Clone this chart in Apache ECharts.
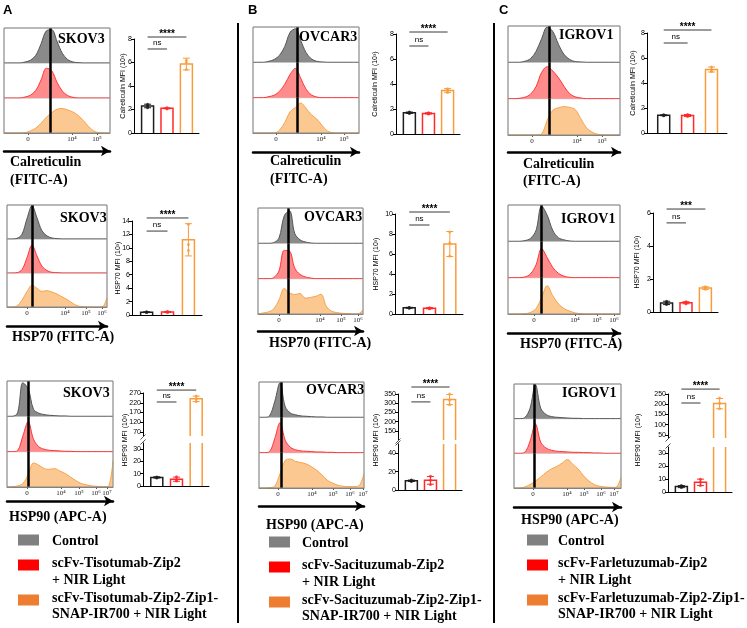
<!DOCTYPE html>
<html>
<head>
<meta charset="utf-8">
<script src="https://cdn.jsdelivr.net/npm/echarts@6/dist/echarts.min.js"></script>
<style>
  html, body { margin: 0; padding: 0; background: #fff; }
  #chart { width: 747px; height: 628px; }
</style>
</head>
<body>
<div id="chart"></div>
<script>
// ---------- data ----------
// flow histograms: % of mode, read every 5% across the plot width
const histX = [0,5,10,15,20,25,30,35,40,45,50,55,60,65,70,75,80,85,90,95,100];
const tickText = ['0', '10⁴', '10⁵', '10⁶', '10⁷'];

const skovCalCtrl  = [0,0,0,0,3,8,22,55,92,95,62,28,10,3,1,0,0,0,0,0,0];
const skovCalZip2  = [0,0,0,0,3,8,22,52,85,78,45,20,7,2,0,0,0,0,0,0,0];
const skovCalIr700 = [0,0,0,0,1,6,14,28,45,58,68,70,66,60,50,35,18,5,1,0,0];
const skovH70Ctrl  = [0,0,2,14,60,98,62,24,9,3,1,0,0,0,0,0,0,0,0,0,0];
const skovH70Zip2  = [0,0,1,10,45,82,50,20,7,2,1,0,0,0,0,0,0,0,0,0,0];
const skovH70Ir700 = [0,0,3,20,45,64,55,46,48,44,38,30,22,12,4,1,0,0,0,0,27];
const skovH90Ctrl  = [0,0,10,95,78,20,9,5,3,2,1,1,0,0,0,0,0,0,0,0,0];
const skovH90Zip2  = [0,0,3,45,85,35,14,7,4,3,2,1,1,0,0,0,0,0,0,0,0];
const skovH90Ir700 = [0,1,3,10,35,68,62,52,50,52,45,38,28,18,10,6,3,2,1,1,75];

const ovcarCalCtrl  = [0,0,0,3,8,20,45,85,95,62,28,10,3,1,0,0,0,0,0,0,0];
const ovcarCalZip2  = [0,0,0,3,7,18,38,66,83,55,24,8,2,0,0,0,0,0,0,0,0];
const ovcarCalIr700 = [0,0,0,0,0,8,30,60,72,85,70,52,40,22,6,1,0,0,0,0,0];
const ovcarH70Ctrl  = [0,0,0,2,15,78,92,28,10,4,1,0,0,0,0,0,0,0,0,0,0];
const ovcarH70Zip2  = [0,0,0,3,22,80,78,30,12,5,2,0,0,0,0,0,0,0,0,0,0];
const ovcarH70Ir700 = [0,3,6,15,40,72,60,55,58,45,47,50,56,22,8,4,2,1,0,0,12];
const ovcarH90Ctrl  = [0,0,4,45,98,30,12,7,4,3,2,1,1,0,0,0,0,0,0,0,0];
const ovcarH90Zip2  = [0,0,3,40,85,35,15,8,5,4,3,2,2,1,1,0,0,0,0,0,0];
const ovcarH90Ir700 = [0,0,1,5,40,78,82,75,72,68,60,50,37,22,14,8,5,4,4,6,40];

const igrovCalCtrl  = [0,0,0,3,10,30,65,97,85,50,22,8,2,1,0,0,0,0,0,0,0];
const igrovCalZip2  = [0,0,1,4,12,33,72,88,76,58,34,14,5,2,0,0,0,0,0,0,0];
const igrovCalIr700 = [0,0,0,0,0,0,3,40,68,75,78,76,70,45,20,8,2,0,0,0,0];
const igrovH70Ctrl  = [0,0,0,2,8,30,97,72,30,10,4,1,0,0,0,0,0,0,0,0,0];
const igrovH70Zip2  = [0,0,0,2,10,35,80,55,28,12,4,1,0,0,0,0,0,0,0,0,0];
const igrovH70Ir700 = [0,0,0,1,4,15,45,78,50,28,15,8,3,1,0,0,0,0,0,0,0];
const igrovH90Ctrl  = [0,0,3,30,98,30,12,6,4,3,2,1,1,0,0,0,0,0,0,0,0];
const igrovH90Zip2  = [0,0,3,35,85,32,15,9,6,5,4,3,3,2,2,1,1,0,0,0,0];
const igrovH90Ir700 = [0,0,3,10,20,32,45,55,62,72,82,68,55,35,20,10,5,3,2,2,30];

// gate line and decade tick positions (same % scale), order: Cal, HSP70, HSP90
const skovGates  = [44, 25, 20];
const ovcarGates = [41.5, 28.5, 21];
const igrovGates = [36.6, 29.5, 18.7];
const skovCalTicks  = [22.6, 64.2, 87.7];
const skovH70Ticks  = [20, 58, 79, 95];
const skovH90Ticks  = [18.9, 50.9, 67.9, 84, 94.3];
const ovcarCalTicks = [21.7, 64.2, 85.8];
const ovcarH70Ticks = [20, 59, 79, 95.2];
const ovcarH90Ticks = [18, 50.5, 70.5, 86.7, 99];
const igrovCalTicks = [21.4, 61.6, 84];
const igrovH70Ticks = [23.2, 59.8, 79.5, 94.6];
const igrovH90Ticks = [17.8, 49.5, 65.4, 81.3, 93.5];

// MFI bars (10^3): Control, Zip2 + NIR, Zip2-Zip1-SNAP-IR700 + NIR
const skovCalMean = [2.3, 2.1, 5.87];
const skovCalSd   = [0.15, 0.04, 0.5];
const skovCalPts  = [[2.15, 2.3, 2.45], [2.06, 2.1, 2.14], [6.2, 6.0, 5.4]];
const skovH70Mean = [0.42, 0.45, 11.2];
const skovH70Sd   = [0.06, 0.08, 2.4];
const skovH70Pts  = [[0.37, 0.42, 0.47], [0.38, 0.45, 0.52], [13.5, 10.5, 9.6]];
const skovH90Mean = [7.0, 5.5, 240];
const skovH90Sd   = [0.5, 1.7, 14];
const skovH90Pts  = [[6.6, 7.0, 7.4], [4.0, 5.0, 7.5], [255, 240, 226]];

const ovcarCalMean = [1.7, 1.65, 3.48];
const ovcarCalSd   = [0.06, 0.05, 0.15];
const ovcarCalPts  = [[1.65, 1.7, 1.76], [1.6, 1.65, 1.7], [3.62, 3.5, 3.33]];
const ovcarH70Mean = [0.62, 0.58, 7.0];
const ovcarH70Sd   = [0.05, 0.06, 1.25];
const ovcarH70Pts  = [[0.58, 0.62, 0.66], [0.53, 0.58, 0.63], [8.2, 7.1, 5.8]];
const ovcarH90Mean = [10, 10.5, 320];
const ovcarH90Sd   = [0.8, 4.2, 28];
const ovcarH90Pts  = [[9.2, 10, 10.8], [6, 10.5, 15], [350, 318, 292]];

const igrovCalMean = [1.42, 1.4, 5.08];
const igrovCalSd   = [0.04, 0.08, 0.2];
const igrovCalPts  = [[1.38, 1.42, 1.46], [1.32, 1.4, 1.48], [5.28, 5.05, 4.92]];
const igrovH70Mean = [0.55, 0.56, 1.45];
const igrovH70Sd   = [0.1, 0.06, 0.08];
const igrovH70Pts  = [[0.45, 0.55, 0.65], [0.5, 0.56, 0.62], [1.53, 1.45, 1.38]];
const igrovH90Mean = [4.2, 7.5, 203];
const igrovH90Sd   = [0.8, 2.5, 25];
const igrovH90Pts  = [[3.5, 4.2, 5], [5, 7.5, 10], [230, 205, 178]];

// y ticks
const calTicks8   = [0, 2, 4, 6, 8];
const h70Ticks14  = [0, 2, 4, 6, 8, 10, 12, 14];
const h70Ticks10  = [0, 2, 4, 6, 8, 10];
const h70Ticks6   = [0, 2, 4, 6];
const skovH90Up   = [70, 120, 170, 220, 270];
const skovH90Low  = [0, 10, 20, 30];
const ovcarH90Up  = [150, 200, 250, 300, 350];
const ovcarH90Low = [0, 20, 40];
const igrovH90Up  = [50, 100, 150, 200, 250];
const igrovH90Low = [0, 10, 20, 30];

// significance bracket heights: [Control vs IR700, Control vs Zip2]
const skovCalSig  = [8.17, 7.15];
const skovH70Sig  = [14.45, 12.5];
const skovH90Sig  = [285, 224];
const ovcarCalSig = [8.16, 7.04];
const ovcarH70Sig = [10.2, 8.9];
const ovcarH90Sig = [388, 307];
const igrovCalSig = [8.24, 7.2];
const igrovH70Sig = [6.24, 5.4];
const igrovH90Sig = [274, 206];

const legendNames = [
  ['Control', 'scFv-Tisotumab-Zip2', '+ NIR Light', 'scFv-Tisotumab-Zip2-Zip1-', 'SNAP-IR700 + NIR Light'],
  ['Control', 'scFv-Sacituzumab-Zip2', '+ NIR Light', 'scFv-Sacituzumab-Zip2-Zip1-', 'SNAP-IR700 + NIR Light'],
  ['Control', 'scFv-Farletuzumab-Zip2', '+ NIR Light', 'scFv-Farletuzumab-Zip2-Zip1-', 'SNAP-IR700 + NIR Light'],
];

// ---------- style ----------
const SERIF = '"Liberation Serif", "DejaVu Serif", serif';
const SANS = '"Liberation Sans", Arial, sans-serif';
const HIST_COLORS = [
  { line: '#555555', fill: '#8a8a8a' },
  { line: '#ff3535', fill: '#ff8c8c' },
  { line: '#f6a24a', fill: '#fcc892' },
];
const BAR_COLORS = ['#1e1e1e', '#ff2a2a', '#f99c3c'];
const LEGEND_COLORS = ['#808080', '#ff0000', '#ed7d31'];
const BAR_W = 12;

// ---------- layout ----------
const histPanels = [
  { box: [4, 28, 106, 105],   arrow: 151, cell: 'SKOV3',  cellAt: [58, 39],   curves: [skovCalCtrl, skovCalZip2, skovCalIr700],    gate: skovGates[0],  ticks: skovCalTicks },
  { box: [7, 205, 100, 102],  arrow: 326, cell: 'SKOV3',  cellAt: [60, 218],  curves: [skovH70Ctrl, skovH70Zip2, skovH70Ir700],    gate: skovGates[1],  ticks: skovH70Ticks },
  { box: [7, 381, 106, 106],  arrow: 501, cell: 'SKOV3',  cellAt: [63, 393],  curves: [skovH90Ctrl, skovH90Zip2, skovH90Ir700],    gate: skovGates[2],  ticks: skovH90Ticks },
  { box: [253, 27, 106, 106], arrow: 152, cell: 'OVCAR3', cellAt: [299, 37],  curves: [ovcarCalCtrl, ovcarCalZip2, ovcarCalIr700], gate: ovcarGates[0], ticks: ovcarCalTicks },
  { box: [258, 208, 105, 106],arrow: 331, cell: 'OVCAR3', cellAt: [304, 217], curves: [ovcarH70Ctrl, ovcarH70Zip2, ovcarH70Ir700], gate: ovcarGates[1], ticks: ovcarH70Ticks },
  { box: [259, 382, 105, 106],arrow: 506, cell: 'OVCAR3', cellAt: [306, 390], curves: [ovcarH90Ctrl, ovcarH90Zip2, ovcarH90Ir700], gate: ovcarGates[2], ticks: ovcarH90Ticks },
  { box: [508, 26, 112, 109], arrow: 152, cell: 'IGROV1', cellAt: [559, 35],  curves: [igrovCalCtrl, igrovCalZip2, igrovCalIr700], gate: igrovGates[0], ticks: igrovCalTicks },
  { box: [508, 205, 112, 109],arrow: 333, cell: 'IGROV1', cellAt: [561, 219], curves: [igrovH70Ctrl, igrovH70Zip2, igrovH70Ir700], gate: igrovGates[1], ticks: igrovH70Ticks },
  { box: [514, 384, 107, 104],arrow: 507, cell: 'IGROV1', cellAt: [562, 393], curves: [igrovH90Ctrl, igrovH90Zip2, igrovH90Ir700], gate: igrovGates[2], ticks: igrovH90Ticks },
];

const barPanels = [
  { left: 134, width: 65, segs: [{ top: 39, height: 94, min: 0, max: 8, ticks: calTicks8 }],
    mean: skovCalMean, sd: skovCalSd, pts: skovCalPts, sig: skovCalSig, stars: '****', name: 'Calreticulin MFI (10³)', nameAt: [123, 86] },
  { left: 132, width: 70, segs: [{ top: 221, height: 94, min: 0, max: 14, ticks: h70Ticks14 }],
    mean: skovH70Mean, sd: skovH70Sd, pts: skovH70Pts, sig: skovH70Sig, stars: '****', name: 'HSP70 MFI (10³)', nameAt: [118, 268] },
  { left: 143, width: 66, segs: [{ top: 393, height: 43, min: 50, max: 270, ticks: skovH90Up }, { top: 443, height: 43, min: 0, max: 35, ticks: skovH90Low }],
    mean: skovH90Mean, sd: skovH90Sd, pts: skovH90Pts, sig: skovH90Sig, stars: '****', name: 'HSP90 MFI (10³)', nameAt: [125, 440] },
  { left: 396, width: 64, segs: [{ top: 34, height: 100, min: 0, max: 8, ticks: calTicks8 }],
    mean: ovcarCalMean, sd: ovcarCalSd, pts: ovcarCalPts, sig: ovcarCalSig, stars: '****', name: 'Calreticulin MFI (10³)', nameAt: [375, 84] },
  { left: 395, width: 68, segs: [{ top: 214, height: 100, min: 0, max: 10, ticks: h70Ticks10 }],
    mean: ovcarH70Mean, sd: ovcarH70Sd, pts: ovcarH70Pts, sig: ovcarH70Sig, stars: '****', name: 'HSP70 MFI (10³)', nameAt: [376, 264] },
  { left: 398, width: 64, segs: [{ top: 394, height: 46, min: 100, max: 350, ticks: ovcarH90Up }, { top: 444, height: 46, min: 0, max: 50, ticks: ovcarH90Low }],
    mean: ovcarH90Mean, sd: ovcarH90Sd, pts: ovcarH90Pts, sig: ovcarH90Sig, stars: '****', name: 'HSP90 MFI (10³)', nameAt: [376, 440] },
  { left: 647, width: 80, segs: [{ top: 33, height: 100, min: 0, max: 8, ticks: calTicks8 }],
    mean: igrovCalMean, sd: igrovCalSd, pts: igrovCalPts, sig: igrovCalSig, stars: '****', name: 'Calreticulin MFI (10³)', nameAt: [633, 83] },
  { left: 653, width: 65, segs: [{ top: 213, height: 99, min: 0, max: 6, ticks: h70Ticks6 }],
    mean: igrovH70Mean, sd: igrovH70Sd, pts: igrovH70Pts, sig: igrovH70Sig, stars: '***', name: 'HSP70 MFI (10³)', nameAt: [637, 262] },
  { left: 668, width: 64, segs: [{ top: 394, height: 44, min: 35, max: 250, ticks: igrovH90Up }, { top: 447, height: 45, min: 0, max: 35, ticks: igrovH90Low }],
    mean: igrovH90Mean, sd: igrovH90Sd, pts: igrovH90Pts, sig: igrovH90Sig, stars: '****', name: 'HSP90 MFI (10³)', nameAt: [638, 440] },
];

const markerTitles = [
  ['Calreticulin', 10, 162], ['(FITC-A)', 10, 180], ['HSP70 (FITC-A)', 12, 337], ['HSP90 (APC-A)', 9, 517],
  ['Calreticulin', 270, 161], ['(FITC-A)', 270, 179], ['HSP70 (FITC-A)', 269, 343], ['HSP90 (APC-A)', 266, 525],
  ['Calreticulin', 523, 164], ['(FITC-A)', 523, 181], ['HSP70 (FITC-A)', 520, 344], ['HSP90 (APC-A)', 521, 520],
];
const legendCols = [{ sq: 18, tx: 52, dy: 0 }, { sq: 269, tx: 302, dy: 2 }, { sq: 527, tx: 558, dy: 0 }];

// ---------- build ----------
const grid = [], xAxis = [], yAxis = [], series = [], graphic = [];

function histPanel(p) {
  const [l, t, w, h] = p.box;
  const sub = h / 3;
  let bottomGrid = 0;
  p.curves.forEach((curve, k) => {
    const gi = grid.length;
    grid.push({ left: l, top: t + sub * k, width: w, height: sub, show: true, borderColor: '#cfcfcf', borderWidth: 1 });
    const xi = xAxis.length;
    xAxis.push({
      gridIndex: gi, type: 'value', min: 0, max: 100, show: k === 2,
      axisLine: { onZero: false, lineStyle: { color: '#7a7a7a', width: 1 } },
      axisTick: { customValues: p.ticks, length: 2, lineStyle: { color: '#555' } },
      axisLabel: { customValues: p.ticks, formatter: v => tickText[p.ticks.indexOf(v)], fontFamily: SERIF, fontSize: 7, color: '#222', margin: 3 },
      splitLine: { show: false },
    });
    const yi = yAxis.length;
    yAxis.push({ gridIndex: gi, type: 'value', min: 0, max: 100, show: false, splitLine: { show: false } });
    series.push({
      type: 'line', xAxisIndex: xi, yAxisIndex: yi, silent: true,
      data: histX.map((x, j) => [x, curve[j]]),
      smooth: 0.35, symbol: 'none',
      lineStyle: { color: HIST_COLORS[k].line, width: 1 },
      areaStyle: { color: HIST_COLORS[k].fill, opacity: 1 },
      markLine: {
        silent: true, symbol: ['none', 'none'], label: { show: false },
        lineStyle: { color: '#000', width: 2.5, type: 'solid' },
        data: [{ xAxis: p.gate }],
      },
    });
    if (k === 2) bottomGrid = gi;
  });
  // the arrow under each histogram
  xAxis.push({
    gridIndex: bottomGrid, type: 'value', min: 0, max: 100, position: 'bottom', offset: p.arrow - (t + h),
    axisLine: { show: true, onZero: false, symbol: ['none', 'arrow'], symbolSize: [8, 9], lineStyle: { color: '#000', width: 2.5 } },
    axisTick: { show: false }, axisLabel: { show: false }, splitLine: { show: false },
  });
  graphic.push({ type: 'rect', shape: { x: l, y: t, width: w, height: h }, style: { fill: 'none', stroke: '#8a8a8a', lineWidth: 1 }, z: 100 });
  graphic.push({ type: 'text', x: p.cellAt[0], y: p.cellAt[1], z: 101, style: { text: p.cell, font: 'bold 14px ' + SERIF, fill: '#000', verticalAlign: 'middle' } });
}

function renderBar(params, api) {
  const x = api.value(0), v = api.value(1);
  const top = api.coord([x, v]);
  const base = api.coord([x, 0]);
  const hw = BAR_W / 2;
  return {
    type: 'polyline',
    shape: { points: [[top[0] - hw, base[1]], [top[0] - hw, top[1]], [top[0] + hw, top[1]], [top[0] + hw, base[1]]] },
    style: { fill: 'none', stroke: BAR_COLORS[params.dataIndex], lineWidth: 1.5 },
  };
}

function renderErr(params, api) {
  const x = api.value(0), m = api.value(1), e = api.value(2);
  const hi = api.coord([x, m + e]), lo = api.coord([x, m - e]);
  const style = { stroke: BAR_COLORS[params.dataIndex], lineWidth: 1 };
  return {
    type: 'group', children: [
      { type: 'line', shape: { x1: hi[0], y1: hi[1], x2: lo[0], y2: lo[1] }, style },
      { type: 'line', shape: { x1: hi[0] - 3.5, y1: hi[1], x2: hi[0] + 3.5, y2: hi[1] }, style },
      { type: 'line', shape: { x1: lo[0] - 3.5, y1: lo[1], x2: lo[0] + 3.5, y2: lo[1] }, style },
    ],
  };
}

function barPanel(p) {
  const labels = [p.stars, 'ns'];
  p.segs.forEach((s, si) => {
    const gi = grid.length;
    grid.push({ left: p.left, top: s.top, width: p.width, height: s.height });
    const xi = xAxis.length;
    xAxis.push({
      gridIndex: gi, type: 'value', min: 0.3, max: 3.65, show: si === p.segs.length - 1,
      axisLine: { onZero: false, lineStyle: { color: '#000', width: 1 } },
      axisTick: { show: false }, axisLabel: { show: false }, splitLine: { show: false },
    });
    const yi = yAxis.length;
    yAxis.push({
      gridIndex: gi, type: 'value', min: s.min, max: s.max,
      axisLine: { show: true, onZero: false, lineStyle: { color: '#000', width: 1 } },
      axisTick: { show: true, customValues: s.ticks, length: 3, lineStyle: { color: '#000' } },
      axisLabel: { customValues: s.ticks, fontFamily: SANS, fontSize: 7, color: '#000', margin: 2 },
      splitLine: { show: false },
    });
    const common = { xAxisIndex: xi, yAxisIndex: yi, silent: true };
    series.push({ ...common, type: 'custom', clip: true, renderItem: renderBar, data: p.mean.map((m, i) => [i + 1, m]) });
    series.push({ ...common, type: 'custom', clip: true, renderItem: renderErr, z: 3, data: p.mean.map((m, i) => [i + 1, m, p.sd[i]]) });
    series.push({
      ...common, type: 'scatter', symbolSize: 3, z: 4,
      data: p.pts.flatMap((arr, i) => arr.map(v => ({ value: [i + 1, v], itemStyle: { color: BAR_COLORS[i] } }))),
    });
    if (si === 0) {
      series.push({
        ...common, type: 'custom', clip: false, z: 5,
        data: [[1, 3, p.sig[0]], [1, 2, p.sig[1]]],
        renderItem(params, api) {
          const a = api.coord([api.value(0), api.value(2)]);
          const b = api.coord([api.value(1), api.value(2)]);
          const isNs = params.dataIndex === 1;
          return {
            type: 'group', children: [
              { type: 'line', shape: { x1: a[0], y1: a[1], x2: b[0], y2: b[1] }, style: { stroke: '#3a3a3a', lineWidth: 1 } },
              { type: 'text', x: (a[0] + b[0]) / 2, y: a[1] + (isNs ? -2 : 2),
                style: { text: labels[params.dataIndex], align: 'center', verticalAlign: 'bottom',
                  font: isNs ? '8px ' + SANS : 'bold 10px ' + SANS, fill: '#000' } },
            ],
          };
        },
      });
    }
  });
  // axis break marks
  if (p.segs.length === 2) {
    const yTop = p.segs[0].top + p.segs[0].height, yBot = p.segs[1].top;
    [yTop + 1, yBot - 1].forEach(y => graphic.push({
      type: 'line', shape: { x1: p.left - 2.5, y1: y + 2.5, x2: p.left + 2.5, y2: y - 2.5 },
      style: { stroke: '#555', lineWidth: 1 }, z: 100,
    }));
  }
  graphic.push({
    type: 'text', x: p.nameAt[0], y: p.nameAt[1], rotation: Math.PI / 2, z: 100,
    style: { text: p.name, font: '7px ' + SANS, fill: '#000', align: 'center', verticalAlign: 'middle' },
  });
}

histPanels.forEach(histPanel);
barPanels.forEach(barPanel);

markerTitles.forEach(([text, x, y]) => graphic.push({
  type: 'text', x, y, style: { text, font: 'bold 14px ' + SERIF, fill: '#000', verticalAlign: 'middle' },
}));

legendCols.forEach((c, ci) => {
  const names = legendNames[ci];
  const rows = [[540, [names[0]], [541]], [565, [names[1], names[2]], [563, 580]], [600, [names[3], names[4]], [598, 614]]];
  rows.forEach(([sqY, lines, ys], k) => {
    graphic.push({ type: 'rect', shape: { x: c.sq, y: sqY + c.dy - 5.5, width: 21, height: 11 }, style: { fill: LEGEND_COLORS[k] } });
    lines.forEach((text, j) => graphic.push({
      type: 'text', x: c.tx, y: ys[j] + c.dy, style: { text, font: 'bold 14px ' + SERIF, fill: '#000', verticalAlign: 'middle' },
    }));
  });
});

[['A', 3], ['B', 248], ['C', 499]].forEach(([text, x]) => graphic.push({
  type: 'text', x, y: 10, style: { text, font: 'bold 13px ' + SANS, fill: '#000', verticalAlign: 'middle' },
}));
[238, 494].forEach(x => graphic.push({
  type: 'line', shape: { x1: x, y1: 23, x2: x, y2: 623 }, style: { stroke: '#000', lineWidth: 2 },
}));

const chart = echarts.init(document.getElementById('chart'));
chart.setOption({
  animation: false,
  textStyle: { fontFamily: SANS },
  grid, xAxis, yAxis, series, graphic,
});
window.addEventListener('resize', () => chart.resize());
</script>
</body>
</html>
